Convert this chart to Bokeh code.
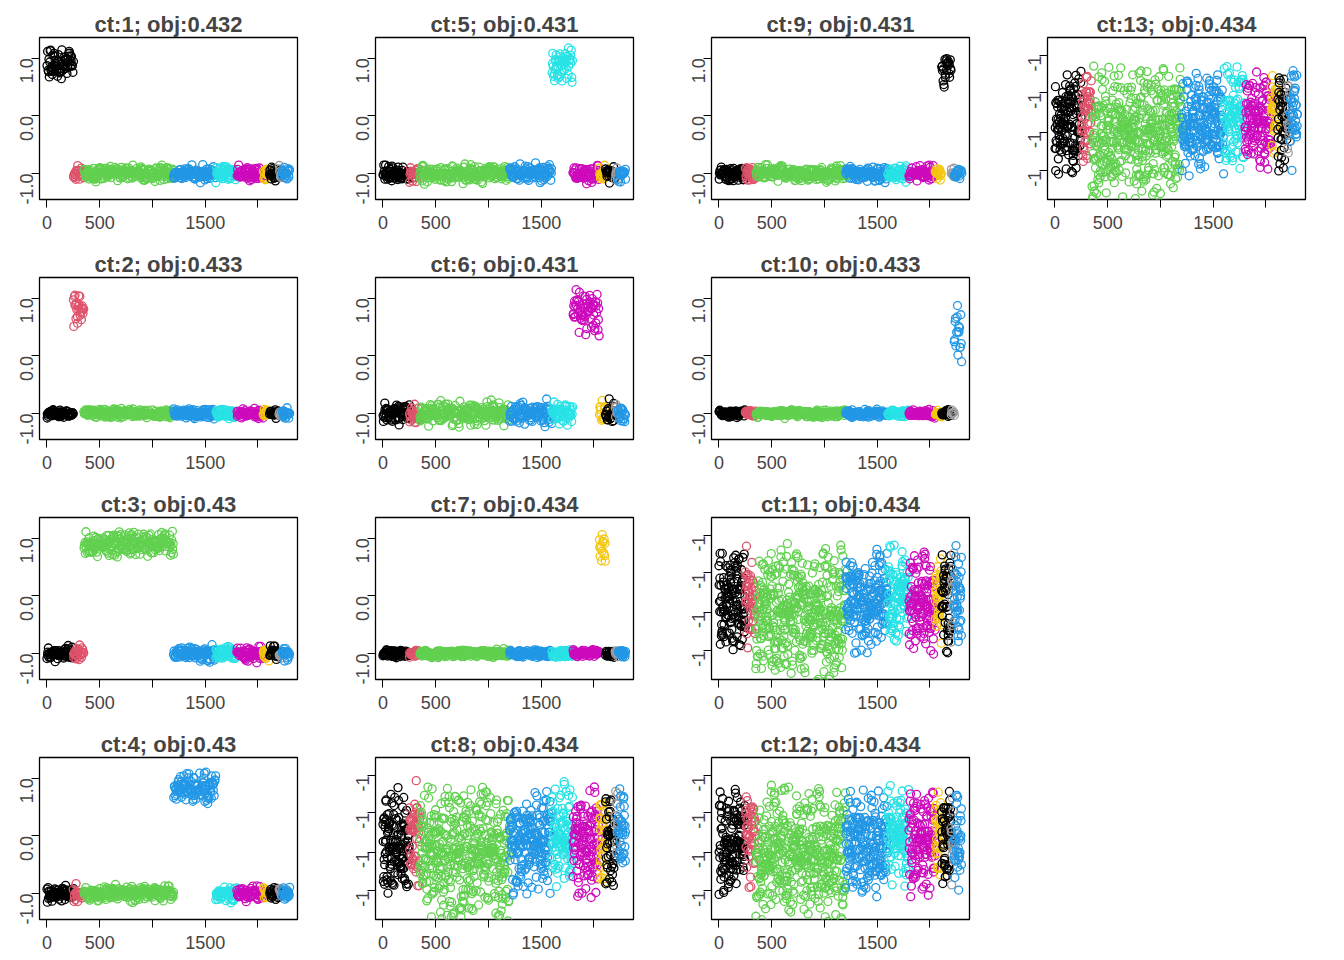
import numpy as np
from bokeh.plotting import figure
from bokeh.layouts import gridplot, column
from bokeh.models import FixedTicker, Spacer
from bokeh.embed import file_html
from bokeh.resources import INLINE

# cell-type groups along the x index: start, end, colour
grp_start = [0, 250, 350, 1200, 1600, 1800, 2050, 2110, 2200, 2230]
grp_end = [250, 350, 1200, 1600, 1800, 2050, 2110, 2200, 2230, 2300]
grp_col = ["black", "#DF536B", "#61D04F", "#2297E6", "#28E2E5", "#CD0BBC",
           "#F5C710", "black", "#9E9E9E", "#2297E6"]

panel_ids = [1, 2, 3, 4, 5, 6, 7, 8, 9, 10, 11, 12, 13]
objs = ["0.432", "0.433", "0.43", "0.43", "0.431", "0.431", "0.434", "0.434",
        "0.431", "0.433", "0.434", "0.434", "0.434"]
high_grp = [0, 1, 2, 3, 4, 5, 6, -1, 7, 9, -1, -1, -1]
high_lvl = [0.9, 0.8, 0.9, 0.85, 0.9, 0.75, 0.85, 0, 0.75, 0.4, 0, 0, 0]
high_spr = [0.3, 0.35, 0.25, 0.3, 0.35, 0.45, 0.3, 0, 0.3, 0.7, 0, 0, 0]
low_spr = [0.12, 0.07, 0.12, 0.12, 0.14, 0.18, 0.06, 0, 0.12, 0.06, 0, 0, 0]
noisy = [False] * 7 + [True, False, False, True, True, True]


def h(i, k):
    return np.modf(np.abs(np.sin(i * 12.9898 + k * 78.233) * 43758.5453))[0]


def make_panel(idx):
    pid = panel_ids[idx]
    p = figure(frame_width=258, frame_height=162, output_backend="svg", toolbar_location=None,
               x_range=(-70, 2375), y_range=(-1.45, 1.36),
               min_border_left=39, min_border_right=39, min_border_top=31,
               min_border_bottom=47, title="ct:%d; obj:%s" % (pid, objs[idx]))
    p.title.text_font = "Liberation Sans"
    p.title.text_font_size = "22px"
    p.title.text_font_style = "bold"
    p.title.align = "center"
    p.title.standoff = 2
    p.grid.visible = False
    p.outline_line_color = "black"
    p.outline_line_width = 1.3
    p.xaxis.ticker = FixedTicker(ticks=[0, 500, 1000, 1500, 2000])
    p.xaxis.major_label_overrides = {0: "0", 500: "500", 1000: "", 1500: "1500", 2000: ""}
    if noisy[idx]:
        yt = [1.05, 0.4, -0.28, -0.95]
        p.yaxis.ticker = FixedTicker(ticks=yt)
        p.yaxis.major_label_overrides = {t: "-1" for t in yt}
    else:
        p.yaxis.ticker = FixedTicker(ticks=[-1, 0, 1])
        p.yaxis.major_label_overrides = {-1: "-1.0", 0: "0.0", 1: "1.0"}
    for ax in (p.xaxis[0], p.yaxis[0]):
        ax.axis_line_color = None
        ax.major_tick_out = 8
        ax.major_tick_in = 0
        ax.minor_tick_line_color = None
        ax.major_label_text_font = "Liberation Sans"
        ax.major_label_text_font_size = "18px"
        ax.major_tick_line_color = "black"
    p.yaxis.major_label_orientation = np.pi / 2
    p.xaxis.major_label_standoff = 8
    for g in range(len(grp_start)):
        step = 2.0 if noisy[idx] else 4.0
        xs = np.arange(grp_start[g], grp_end[g], step)
        i = xs + pid * 1000
        if noisy[idx]:
            base = -0.3 if g == 2 else (-0.1 if g in (0, 3, 5, 7) else 0.0)
            sp = 1.3 if g == 2 else 1.0
            ys = base + sp * (h(i, 1) + h(i, 2) - 1.0)
        elif g == high_grp[idx]:
            ys = high_lvl[idx] + high_spr[idx] * (h(i, 1) + h(i, 2) - 1.0)
        else:
            ys = -1.0 + low_spr[idx] * (h(i, 1) + h(i, 2) + h(i, 3) - 1.5)
        xj = xs + step * h(i, 5)
        p.scatter(xj, ys, size=8, fill_color=None, line_color=grp_col[g], line_width=1.3)
    return p


cols = [[0, 1, 2, 3], [4, 5, 6, 7], [8, 9, 10, 11], [12]]
rows = []
for r in range(4):
    row = []
    for c in range(4):
        if r < len(cols[c]):
            row.append(make_panel(cols[c][r]))
        else:
            row.append(None)
    rows.append(row)

grid = gridplot(rows, toolbar_location=None)
page = column(Spacer(height=6), grid)
open("out.html", "w").write(file_html(page, INLINE))
